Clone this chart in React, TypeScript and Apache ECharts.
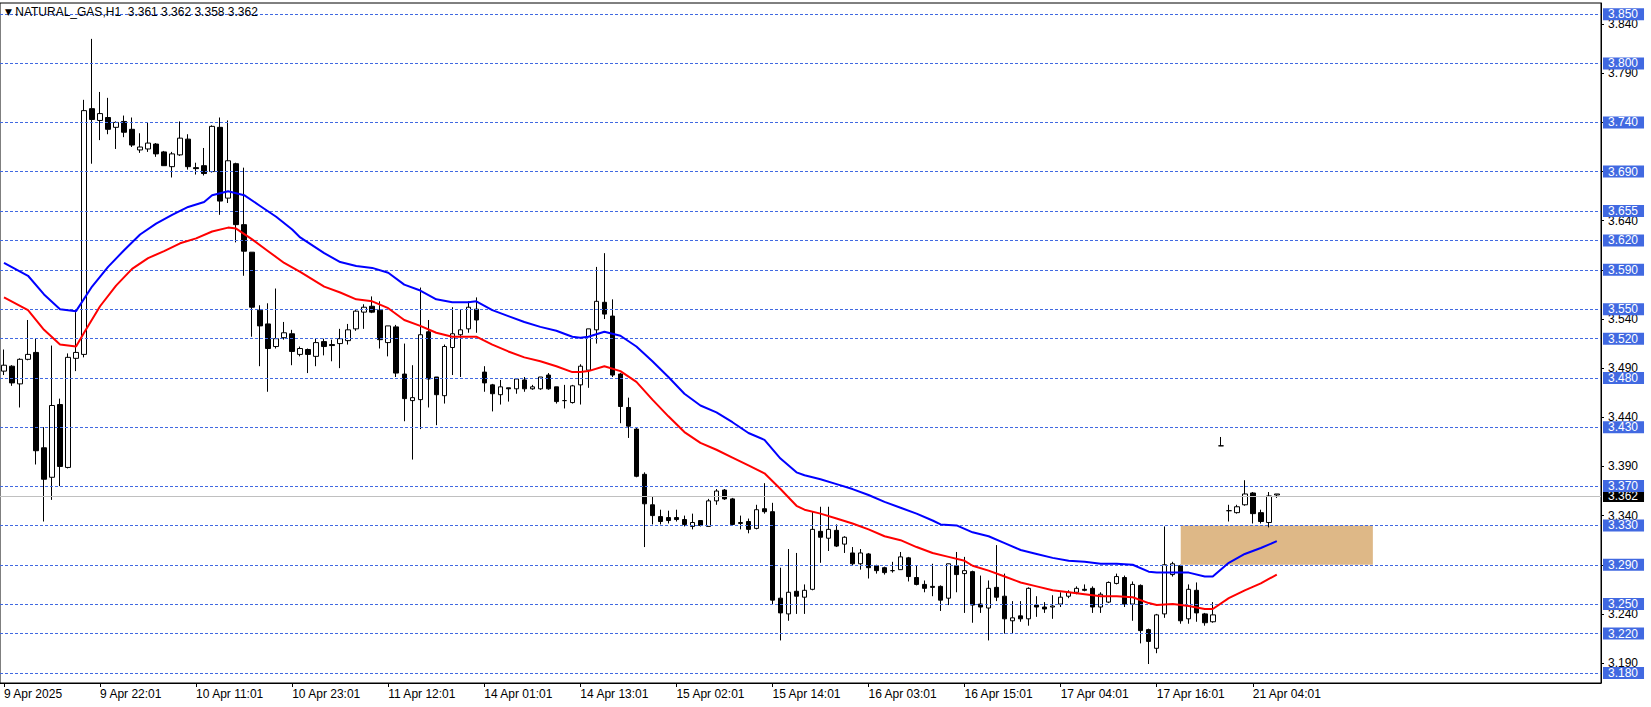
import React, { useEffect, useRef } from "react";
import * as echarts from "echarts";

const FONT = "'Liberation Sans', Arial, sans-serif";

const headerText = "NATURAL_GAS,H1  3.361 3.362 3.358 3.362";

const tickLabels = [
  "9 Apr 2025", "9 Apr 22:01", "10 Apr 11:01", "10 Apr 23:01", "11 Apr 12:01",
  "14 Apr 01:01", "14 Apr 13:01", "15 Apr 02:01", "15 Apr 14:01", "16 Apr 03:01",
  "16 Apr 15:01", "17 Apr 04:01", "17 Apr 16:01", "21 Apr 04:01",
];
const barsPerLabel = 12;
const barCount = 200;

// [open, high, low, close]
const candles: number[][] = [
  [3.487, 3.509, 3.483, 3.493], [3.492, 3.493, 3.472, 3.475], [3.474, 3.5, 3.45, 3.499],
  [3.499, 3.539, 3.498, 3.504], [3.506, 3.52, 3.392, 3.406], [3.409, 3.43, 3.334, 3.377],
  [3.379, 3.513, 3.356, 3.452], [3.453, 3.459, 3.37, 3.39], [3.389, 3.505, 3.388, 3.501],
  [3.5, 3.547, 3.487, 3.506], [3.504, 3.763, 3.501, 3.752], [3.754, 3.825, 3.698, 3.743],
  [3.742, 3.771, 3.722, 3.749], [3.745, 3.765, 3.728, 3.733], [3.735, 3.741, 3.713, 3.74],
  [3.741, 3.747, 3.725, 3.73], [3.733, 3.745, 3.715, 3.717], [3.712, 3.729, 3.709, 3.715],
  [3.713, 3.74, 3.71, 3.719], [3.718, 3.719, 3.705, 3.708], [3.71, 3.711, 3.696, 3.696],
  [3.695, 3.71, 3.684, 3.708], [3.707, 3.741, 3.706, 3.724], [3.723, 3.728, 3.692, 3.695],
  [3.694, 3.699, 3.687, 3.693], [3.696, 3.714, 3.686, 3.688], [3.69, 3.737, 3.689, 3.736],
  [3.735, 3.745, 3.646, 3.66], [3.663, 3.742, 3.658, 3.701], [3.698, 3.699, 3.618, 3.636],
  [3.636, 3.694, 3.584, 3.609], [3.608, 3.608, 3.522, 3.552], [3.549, 3.554, 3.492, 3.533],
  [3.535, 3.556, 3.466, 3.51], [3.512, 3.571, 3.51, 3.52], [3.521, 3.537, 3.519, 3.526],
  [3.525, 3.529, 3.493, 3.507], [3.504, 3.512, 3.502, 3.51], [3.509, 3.51, 3.485, 3.504],
  [3.502, 3.52, 3.492, 3.516], [3.517, 3.52, 3.503, 3.512], [3.514, 3.519, 3.497, 3.513],
  [3.515, 3.53, 3.49, 3.52], [3.518, 3.535, 3.514, 3.529], [3.53, 3.549, 3.528, 3.548],
  [3.547, 3.555, 3.53, 3.552], [3.553, 3.563, 3.546, 3.547], [3.549, 3.558, 3.51, 3.519],
  [3.516, 3.533, 3.502, 3.533], [3.532, 3.534, 3.481, 3.485], [3.484, 3.515, 3.436, 3.459],
  [3.457, 3.493, 3.397, 3.46], [3.458, 3.572, 3.428, 3.524], [3.527, 3.539, 3.45, 3.479],
  [3.481, 3.481, 3.432, 3.463], [3.462, 3.514, 3.454, 3.512], [3.511, 3.552, 3.483, 3.525],
  [3.524, 3.55, 3.481, 3.529], [3.53, 3.558, 3.526, 3.552], [3.55, 3.562, 3.526, 3.539],
  [3.486, 3.492, 3.466, 3.475], [3.473, 3.474, 3.446, 3.464], [3.463, 3.478, 3.453, 3.471],
  [3.47, 3.47, 3.456, 3.469], [3.469, 3.479, 3.464, 3.479], [3.478, 3.481, 3.466, 3.469],
  [3.469, 3.473, 3.468, 3.471], [3.469, 3.481, 3.468, 3.481], [3.483, 3.485, 3.468, 3.469],
  [3.471, 3.471, 3.454, 3.456], [3.457, 3.473, 3.449, 3.457], [3.455, 3.473, 3.454, 3.472],
  [3.473, 3.494, 3.453, 3.492], [3.488, 3.53, 3.47, 3.53], [3.529, 3.593, 3.515, 3.558],
  [3.557, 3.607, 3.54, 3.545], [3.543, 3.56, 3.481, 3.483], [3.484, 3.485, 3.434, 3.451],
  [3.45, 3.46, 3.419, 3.431], [3.428, 3.429, 3.379, 3.38], [3.382, 3.384, 3.308, 3.352],
  [3.351, 3.359, 3.331, 3.34], [3.339, 3.346, 3.331, 3.334], [3.338, 3.345, 3.332, 3.335],
  [3.338, 3.346, 3.334, 3.336], [3.336, 3.34, 3.329, 3.331], [3.329, 3.342, 3.326, 3.333],
  [3.335, 3.335, 3.329, 3.33], [3.329, 3.357, 3.329, 3.355], [3.355, 3.367, 3.351, 3.365],
  [3.366, 3.367, 3.356, 3.357], [3.357, 3.358, 3.33, 3.331], [3.332, 3.34, 3.326, 3.333],
  [3.334, 3.337, 3.322, 3.326], [3.327, 3.351, 3.326, 3.346], [3.347, 3.373, 3.342, 3.344],
  [3.344, 3.353, 3.25, 3.254], [3.256, 3.287, 3.213, 3.241], [3.24, 3.306, 3.233, 3.262],
  [3.263, 3.302, 3.24, 3.258], [3.257, 3.27, 3.24, 3.264], [3.265, 3.344, 3.264, 3.326],
  [3.324, 3.349, 3.292, 3.318], [3.317, 3.349, 3.304, 3.326], [3.325, 3.331, 3.308, 3.309],
  [3.311, 3.319, 3.302, 3.318], [3.302, 3.308, 3.289, 3.291], [3.291, 3.306, 3.285, 3.302],
  [3.301, 3.302, 3.276, 3.287], [3.289, 3.29, 3.281, 3.284], [3.287, 3.288, 3.28, 3.282],
  [3.284, 3.293, 3.282, 3.284], [3.285, 3.303, 3.285, 3.298], [3.297, 3.298, 3.273, 3.278],
  [3.277, 3.289, 3.269, 3.27], [3.27, 3.274, 3.262, 3.266], [3.268, 3.291, 3.258, 3.267],
  [3.268, 3.269, 3.243, 3.254], [3.256, 3.291, 3.249, 3.291], [3.289, 3.303, 3.262, 3.28],
  [3.281, 3.298, 3.241, 3.284], [3.283, 3.284, 3.231, 3.249], [3.25, 3.279, 3.241, 3.247],
  [3.246, 3.274, 3.213, 3.266], [3.267, 3.31, 3.253, 3.257], [3.258, 3.281, 3.22, 3.235],
  [3.233, 3.253, 3.22, 3.236], [3.238, 3.253, 3.232, 3.235], [3.235, 3.267, 3.228, 3.266],
  [3.249, 3.258, 3.237, 3.247], [3.247, 3.252, 3.241, 3.245], [3.247, 3.259, 3.235, 3.248],
  [3.25, 3.262, 3.247, 3.257], [3.258, 3.264, 3.256, 3.262], [3.262, 3.268, 3.26, 3.266],
  [3.265, 3.27, 3.263, 3.264], [3.266, 3.268, 3.241, 3.247], [3.247, 3.262, 3.241, 3.26],
  [3.252, 3.273, 3.251, 3.272], [3.271, 3.281, 3.27, 3.278], [3.277, 3.279, 3.247, 3.25],
  [3.25, 3.273, 3.233, 3.27], [3.269, 3.27, 3.21, 3.223], [3.224, 3.225, 3.189, 3.212],
  [3.205, 3.24, 3.2, 3.239], [3.24, 3.329, 3.236, 3.29], [3.28, 3.293, 3.278, 3.291],
  [3.289, 3.29, 3.23, 3.233], [3.235, 3.27, 3.23, 3.265], [3.264, 3.272, 3.232, 3.241],
  [3.24, 3.241, 3.228, 3.231], [3.232, 3.252, 3.231, 3.239], [3.411, 3.42, 3.411, 3.411],
  [3.345, 3.351, 3.334, 3.345], [3.343, 3.351, 3.342, 3.349], [3.351, 3.376, 3.35, 3.362],
  [3.363, 3.364, 3.332, 3.342], [3.343, 3.346, 3.332, 3.334], [3.333, 3.364, 3.328, 3.36],
  [3.361, 3.362, 3.358, 3.362],
];

// [bar index, value]
const blueMA = [
  [0, 3.597], [3, 3.584], [5, 3.565], [7, 3.55], [9, 3.548], [11, 3.573], [13, 3.593],
  [15, 3.61], [17, 3.626], [19, 3.637], [21, 3.646], [23, 3.654], [25, 3.659], [26, 3.666],
  [28, 3.67], [30, 3.666], [32, 3.655], [34, 3.644], [36, 3.631], [37, 3.623], [40, 3.607],
  [42, 3.598], [44, 3.594], [46, 3.592], [48, 3.587], [50, 3.575], [52, 3.569], [54, 3.56],
  [56, 3.557], [58, 3.557], [59, 3.558], [61, 3.549], [63, 3.543], [65, 3.537], [67, 3.532],
  [69, 3.528], [71, 3.522], [72, 3.521], [73, 3.522], [75, 3.527], [77, 3.523], [79, 3.512],
  [81, 3.497], [83, 3.481], [85, 3.464], [87, 3.452], [89, 3.445], [91, 3.435], [93, 3.424],
  [95, 3.417], [97, 3.398], [99, 3.384], [100, 3.381], [102, 3.377], [104, 3.372], [106, 3.367],
  [108, 3.361], [110, 3.354], [112, 3.348], [114, 3.342], [116, 3.335], [117, 3.331], [119, 3.33],
  [121, 3.323], [123, 3.319], [125, 3.312], [127, 3.305], [129, 3.301], [131, 3.297], [133, 3.294],
  [135, 3.293], [137, 3.291], [139, 3.291], [141, 3.29], [143, 3.283], [144, 3.282], [146, 3.282],
  [148, 3.282], [150, 3.278], [151, 3.278], [153, 3.292], [155, 3.301], [157, 3.307], [159, 3.314],
];

const redMA = [
  [0, 3.562], [3, 3.549], [5, 3.529], [7, 3.514], [9, 3.512], [10, 3.526], [12, 3.553],
  [14, 3.574], [16, 3.591], [18, 3.602], [20, 3.609], [22, 3.617], [24, 3.622], [26, 3.629],
  [28, 3.633], [29, 3.632], [31, 3.621], [33, 3.609], [35, 3.597], [37, 3.588], [40, 3.573],
  [42, 3.567], [44, 3.56], [46, 3.558], [48, 3.551], [50, 3.539], [52, 3.533], [54, 3.526],
  [56, 3.522], [58, 3.522], [59, 3.522], [61, 3.514], [63, 3.507], [65, 3.501], [67, 3.497],
  [69, 3.492], [71, 3.486], [72, 3.486], [73, 3.487], [75, 3.492], [77, 3.487], [79, 3.476],
  [81, 3.458], [83, 3.441], [85, 3.425], [87, 3.414], [89, 3.407], [91, 3.399], [93, 3.391],
  [95, 3.383], [97, 3.367], [99, 3.35], [100, 3.346], [102, 3.342], [104, 3.337], [106, 3.332],
  [108, 3.326], [110, 3.319], [112, 3.315], [114, 3.308], [116, 3.302], [118, 3.298], [120, 3.294],
  [121, 3.289], [123, 3.284], [125, 3.278], [127, 3.272], [129, 3.268], [131, 3.264], [133, 3.262],
  [135, 3.26], [137, 3.258], [139, 3.258], [141, 3.257], [143, 3.251], [144, 3.249], [146, 3.25],
  [148, 3.248], [150, 3.245], [151, 3.245], [153, 3.256], [155, 3.264], [157, 3.271], [159, 3.28],
];

const priceLevels = [
  3.85, 3.8, 3.74, 3.69, 3.655, 3.62, 3.59, 3.55, 3.52, 3.48, 3.43, 3.37, 3.33, 3.29, 3.25, 3.22, 3.18,
];
const axisPrices = [
  3.84, 3.79, 3.74, 3.69, 3.64, 3.59, 3.54, 3.49, 3.44, 3.39, 3.34, 3.29, 3.24, 3.19,
];
const currentPrice = 3.362;
const zone = { fromBar: 147, toBar: 171, top: 3.33, bottom: 3.29 };
const yMin = 3.1697;
const yMax = 3.8615;

export default function App() {
  const ref = useRef<HTMLDivElement>(null);

  useEffect(() => {
    document.body.style.margin = "0";
    const chart = echarts.init(ref.current as HTMLDivElement, null, { renderer: "svg" });

    const categories = Array.from({ length: barCount }, (_, i) => `bar${i}`);
    const showTick = (i: number) =>
      i % barsPerLabel === 0 && i / barsPerLabel < tickLabels.length;
    const labelAt = (i: number) => (showTick(i) ? tickLabels[i / barsPerLabel] : "");

    const candleData = candles.map(([o, h, l, c]) => [o, c, l, h]);

    const blue = "#4169E1";
    const levelLines: any[] = [
      {
        yAxis: currentPrice,
        lineStyle: { color: "#C0C0C0", type: "solid", width: 1 },
        label: {
          show: true,
          position: "end",
          distance: 2,
          formatter: () => currentPrice.toFixed(3),
          color: "#fff",
          backgroundColor: "#000",
          padding: [0, 6, 0, 5],
          lineHeight: 12,
          fontSize: 12,
          fontFamily: FONT,
        },
      },
      ...priceLevels.map((v) => ({
        yAxis: v,
        lineStyle: { color: blue, type: [3, 2], width: 1 },
        label: {
          show: true,
          position: "end",
          distance: 2,
          formatter: () => v.toFixed(3),
          color: "#fff",
          backgroundColor: blue,
          padding: [0, 6, 0, 5],
          lineHeight: 12,
          fontSize: 12,
          fontFamily: FONT,
        },
      })),
    ];

    const option: any = {
      animation: false,
      backgroundColor: "#fff",
      textStyle: { fontFamily: FONT },
      title: {
        text: "{t|▼} " + headerText,
        left: 5,
        top: 6,
        padding: 0,
        textStyle: {
          fontSize: 12,
          fontWeight: "normal",
          color: "#000",
          fontFamily: FONT,
          rich: { t: { fontSize: 9, color: "#000", fontFamily: "'DejaVu Sans'" } },
        },
      },
      grid: {
        left: 0,
        right: 50,
        top: 3,
        bottom: 24,
        show: true,
        borderColor: "#000",
        borderWidth: 1,
        backgroundColor: "#fff",
      },
      xAxis: {
        type: "category",
        data: categories,
        boundaryGap: true,
        axisLine: { show: true, lineStyle: { color: "#000", width: 1 } },
        axisTick: {
          show: true,
          alignWithLabel: true,
          length: 4,
          interval: (i: number) => showTick(i),
          lineStyle: { color: "#000" },
        },
        axisLabel: {
          interval: (i: number) => showTick(i),
          formatter: (_v: string, i: number) => labelAt(i),
          align: "left",
          margin: 5,
          color: "#000",
          fontSize: 12,
          fontFamily: FONT,
        },
        splitLine: { show: false },
      },
      yAxis: {
        type: "value",
        position: "right",
        min: yMin,
        max: yMax,
        axisLine: { show: true, lineStyle: { color: "#000", width: 1 } },
        axisTick: {
          show: true,
          length: 3,
          customValues: axisPrices,
          lineStyle: { color: "#000" },
        },
        axisLabel: {
          customValues: axisPrices,
          formatter: (v: number) => v.toFixed(3),
          margin: 7,
          color: "#000",
          fontSize: 12,
          fontFamily: FONT,
        },
        splitLine: { show: false },
      },
      series: [
        {
          type: "candlestick",
          name: "NATURAL_GAS",
          data: candleData,
          barWidth: 5,
          z: 2,
          itemStyle: {
            color: "#ffffff",
            color0: "#000000",
            borderColor: "#000000",
            borderColor0: "#000000",
            borderColorDoji: "#000000",
            borderWidth: 1,
          },
          markArea: {
            silent: true,
            itemStyle: { color: "#DEB887", opacity: 1 },
            data: [[{ xAxis: zone.fromBar, yAxis: zone.top }, { xAxis: zone.toBar, yAxis: zone.bottom }]],
          },
          markLine: {
            silent: true,
            symbol: ["none", "none"],
            data: levelLines,
          },
        },
        {
          type: "line",
          name: "MA blue",
          data: blueMA,
          showSymbol: false,
          symbol: "none",
          z: 5,
          lineStyle: { color: "#0000FF", width: 2 },
          itemStyle: { color: "#0000FF" },
        },
        {
          type: "line",
          name: "MA red",
          data: redMA,
          showSymbol: false,
          symbol: "none",
          z: 5,
          lineStyle: { color: "#FF0000", width: 2 },
          itemStyle: { color: "#FF0000" },
        },
      ],
    };

    chart.setOption(option);
    return () => chart.dispose();
  }, []);

  return <div ref={ref} style={{ width: 1651, height: 707 }} />;
}
